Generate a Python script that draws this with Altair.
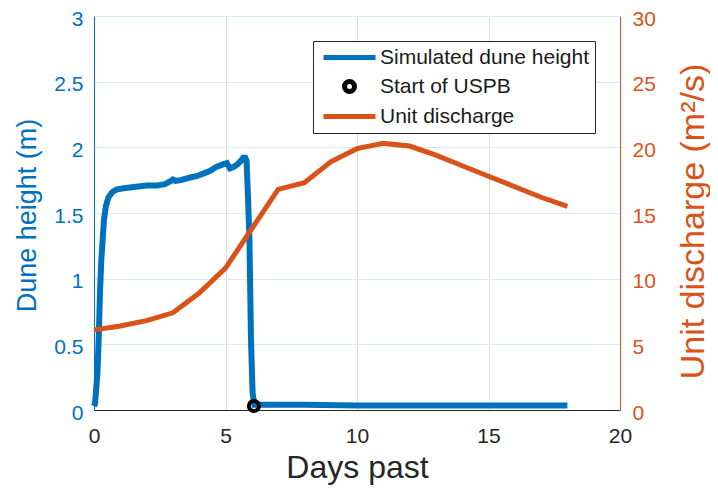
import altair as alt
import pandas as pd

# ---- data ----
dune_days = [0.0, 0.04, 0.08, 0.13, 0.18, 0.23, 0.28, 0.33, 0.38, 0.45, 0.55, 0.7, 0.87, 1.2, 1.6,
             2.0, 2.4, 2.7, 2.89, 3.0, 3.1, 3.3, 3.65, 3.9, 4.15, 4.4, 4.65, 4.9, 5.05, 5.17, 5.3,
             5.45, 5.6, 5.67, 5.75, 5.8, 5.86, 5.91, 5.97, 6.03, 6.1, 8.0, 10.0, 12.0, 14.0, 16.0, 18.0]
dune_height = [0.03, 0.05, 0.15, 0.28, 0.55, 0.91, 1.15, 1.3, 1.45, 1.55, 1.62, 1.66, 1.68, 1.69, 1.70,
               1.71, 1.71, 1.72, 1.74, 1.755, 1.745, 1.75, 1.77, 1.78, 1.80, 1.82, 1.85, 1.87, 1.88, 1.84, 1.85,
               1.87, 1.90, 1.92, 1.92, 1.90, 1.6, 1.3, 0.53, 0.13, 0.04, 0.04, 0.035, 0.035, 0.035, 0.035, 0.035]

q_days = [0, 1, 2, 3, 4, 5, 6, 7, 8, 9, 10, 11, 12, 13, 14, 15, 16, 17, 18]
q_values = [6.1, 6.4, 6.8, 7.4, 8.9, 10.8, 13.8, 16.8, 17.3, 18.9, 19.9, 20.3, 20.1, 19.4, 18.6, 17.8,
            17.0, 16.2, 15.5]

uspb_day = [6.08]
uspb_height = [0.03]

series_names = ["Simulated dune height", "Start of USPB", "Unit discharge"]
series_colors = ["#0072BD", "#000000", "#D95319"]
series_shapes = ["M-5.2,0H5.2", "circle", "M-5.2,0H5.2"]

x_ticks = [0, 5, 10, 15, 20]
left_ticks = [0, 0.5, 1, 1.5, 2, 2.5, 3]
right_ticks = [0, 5, 10, 15, 20, 25, 30]

BLUE = "#0072BD"
ORANGE = "#D95319"
DARK = "#262626"
FONT = "Liberation Sans"

dune_df = pd.DataFrame({"day": dune_days, "height": dune_height})
q_df = pd.DataFrame({"day": q_days, "q": q_values})
pt_df = pd.DataFrame({"day": uspb_day, "height": uspb_height, "series": [series_names[1]]})

x_enc = alt.X(
    "day:Q",
    scale=alt.Scale(domain=[0, 20], nice=False, zero=False),
    axis=alt.Axis(
        values=x_ticks, title="Days past", titleFontSize=32, titleFontWeight="normal",
        titleColor=DARK, titleY=67, titleBaseline="alphabetic",
        labelFontSize=21, labelColor=DARK, labelPadding=15, labelFlush=False,
        domainColor=DARK, domainWidth=1, ticks=False,
        grid=True, gridColor="#DFDFDF", gridWidth=1,
    ),
)

y_left = alt.Y(
    "height:Q",
    scale=alt.Scale(domain=[0, 3], nice=False, zero=False),
    axis=alt.Axis(
        orient="left", values=left_ticks, format="~g", title="Dune height (m)",
        titleAngle=270, titleX=-67, titleY=199, titleAlign="center", titleBaseline="middle",
        titleFontSize=27, titleFontWeight="normal", titleColor=BLUE,
        labelFontSize=21, labelColor=BLUE, labelPadding=11, labelFlush=False, labelOffset=3,
        domainColor=BLUE, domainWidth=1, ticks=False,
        grid=True, gridColor="#D9EAF5", gridWidth=1,
    ),
)

y_right = alt.Y(
    "q:Q",
    scale=alt.Scale(domain=[0, 30], nice=False, zero=False),
    axis=alt.Axis(
        orient="right", values=right_ticks, title="Unit discharge (m²/s)",
        titleAngle=270, titleX=73, titleY=205, titleAlign="center", titleBaseline="middle",
        titleFontSize=34, titleFontWeight="normal", titleColor=ORANGE,
        labelFontSize=21, labelColor=ORANGE, labelPadding=12, labelFlush=False, labelOffset=3,
        domainColor=ORANGE, domainWidth=1, ticks=False, grid=False,
    ),
)

legend_props = dict(
    title=None, orient="none", legendX=219, legendY=25,
    labelFontSize=21, labelColor="#1a1a1a", labelFont=FONT, labelLimit=400,
    symbolSize=100, symbolStrokeWidth=5, symbolOffset=20, labelOffset=20,
    padding=6, rowPadding=3, strokeColor=DARK, fillColor="white",
)

dune_line = alt.Chart(dune_df).mark_line(color=BLUE, strokeWidth=6).encode(x=x_enc, y=y_left)

uspb_point = alt.Chart(pt_df).mark_point(filled=False, strokeWidth=4, size=100, opacity=1).encode(
    x=x_enc,
    y=y_left,
    color=alt.Color("series:N", scale=alt.Scale(domain=series_names, range=series_colors),
                    legend=alt.Legend(**legend_props)),
    shape=alt.Shape("series:N", scale=alt.Scale(domain=series_names, range=series_shapes),
                    legend=alt.Legend(**legend_props)),
)

q_line = alt.Chart(q_df).mark_line(color=ORANGE, strokeWidth=5).encode(x=x_enc, y=y_right)

left_group = alt.layer(dune_line, uspb_point)

chart = (
    alt.layer(left_group, q_line)
    .resolve_scale(y="independent")
    .properties(
        width=526, height=394,
        padding={"left": 86, "top": 8, "right": 90, "bottom": 75},
        autosize=alt.AutoSizeParams(type="none"),
        background="white",
    )
    .configure_axis(labelFont=FONT, titleFont=FONT)
    .configure_view(strokeWidth=0)
)

chart.save("out.html", embed_options={"renderer": "svg", "actions": False})
